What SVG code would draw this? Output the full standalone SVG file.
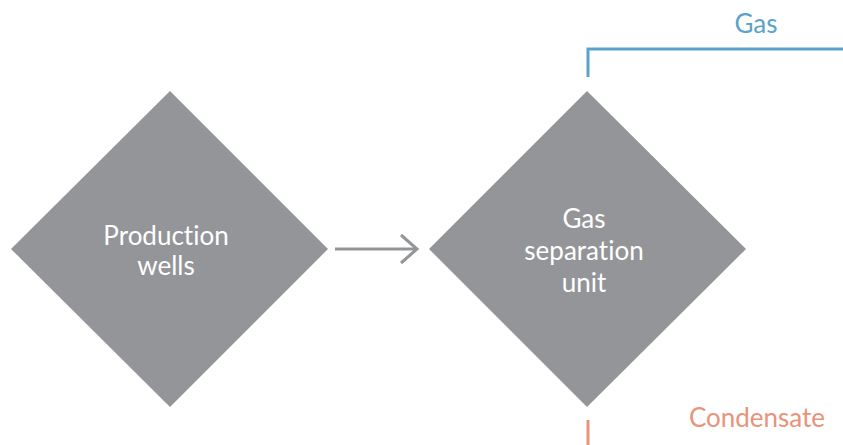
<svg xmlns="http://www.w3.org/2000/svg" width="843" height="445" viewBox="0 0 843 445">
<style>
text{font-family:Lato,"Noto Sans",sans-serif;font-size:26px;font-variant-ligatures:none}
.node{fill:#939598}
.lbl{fill:#ffffff;text-anchor:middle}
.conn{fill:none;stroke-width:3}
</style>
<rect width="843" height="445" fill="#ffffff"/>
<g id="production-wells">
<polygon class="node" points="170,91 328,249 170,407 11,249"/>
<text class="lbl" x="166" y="245">Production</text>
<text class="lbl" x="166" y="275">wells</text>
</g>
<g id="gas-separation-unit">
<polygon class="node" points="587,91 746,249 587,407 429,249"/>
<text class="lbl" x="584" y="228">Gas</text>
<text class="lbl" x="584" y="260">separation</text>
<text class="lbl" x="584" y="292">unit</text>
</g>
<g id="connectors">
<line class="conn" stroke="#939598" x1="335" y1="249" x2="417" y2="249"/>
<polyline class="conn" stroke="#939598" points="401,235 417,249 401,263"/>
<polyline class="conn" stroke="#5ba3c9" points="588,77 588,49 843,49"/>
<line class="conn" stroke="#e8937a" x1="588" y1="420" x2="588" y2="445"/>
</g>
<g id="labels">
<text x="756" y="33" fill="#5ba3c9" text-anchor="middle">Gas</text>
<text x="757" y="427" fill="#e8937a" text-anchor="middle">Condensate</text>
</g>
</svg>
